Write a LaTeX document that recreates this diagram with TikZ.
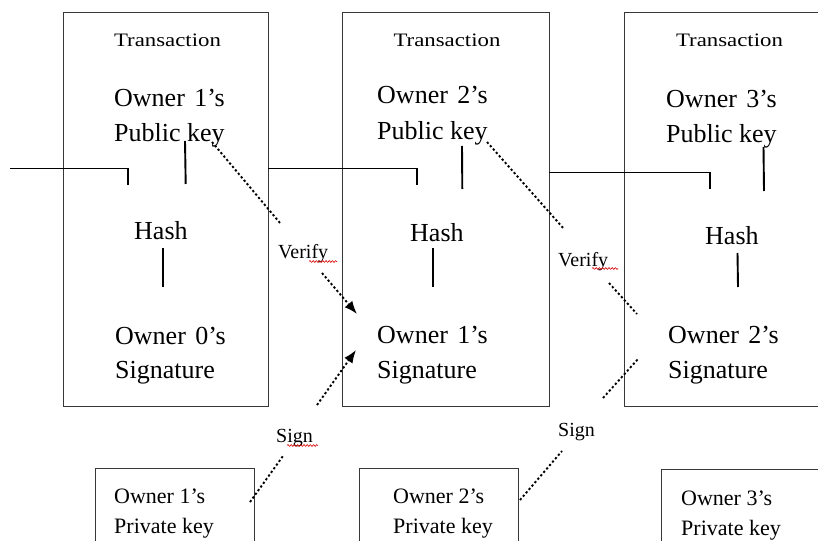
\documentclass[tikz,border=0pt]{standalone}
\usepackage{fontspec}
\setmainfont{Liberation Serif}
\newfontfamily\widefont[FakeStretch=1.2]{Liberation Serif}
\usetikzlibrary{arrows.meta,decorations.pathmorphing}

\begin{document}
\begin{tikzpicture}[x=1pt,y=-1pt,
  box/.style={draw=black!78, line width=0.9pt, inner sep=0pt},
  bigtext/.style={font=\fontsize{26}{30}\selectfont, inner sep=0pt, anchor=base west},
  headtext/.style={font=\widefont\fontsize{19}{23}\selectfont, inner sep=0pt, anchor=base},
  smalltext/.style={font=\fontsize{20}{24}\selectfont, inner sep=0pt, anchor=base west},
  keytext/.style={font=\fontsize{22}{26}\selectfont, inner sep=0pt, anchor=base west},
  chain/.style={line width=0.9pt},
  tick/.style={line width=1.9pt},
  link/.style={line width=1.9pt},
  dotline/.style={line width=1.9pt, dash pattern=on 2.2pt off 2.3pt},
  tip/.style={-{Latex[length=13pt,width=10pt]}},
  squiggle/.style={draw=red!85!black, line width=0.6pt, decorate,
    decoration={snake, amplitude=0.9pt, segment length=3.2pt}}]

\useasboundingbox (0,0) rectangle (818,540);
\clip (0,0) rectangle (818,540);
\fill[white] (0,0) rectangle (818,540);

% transaction boxes
\node[box, minimum width=205pt, minimum height=394pt] (tx1) at (165.5,209) {};
\node[box, minimum width=207pt, minimum height=394pt] (tx2) at (445.5,209) {};
\node[box, minimum width=220pt, minimum height=394pt] (tx3) at (734,209) {};

% private key boxes
\node[box, minimum width=159pt, minimum height=100pt] (pk1) at (174.5,518) {};
\node[box, minimum width=159pt, minimum height=100pt] (pk2) at (438.5,518) {};
\node[box, minimum width=180pt, minimum height=100pt] (pk3) at (751,519) {};

% box headings
\node[headtext] (t1) at (167.5,47) {Transaction};
\node[headtext] (t2) at (447,47) {Transaction};
\node[headtext] (t3) at (729.5,47) {Transaction};

% public keys
\node[bigtext] (pa1) at (114,107) {Owner\hspace{0.36em}1’s};
\node[bigtext] (pb1) at (114,142) {Public key};
\node[bigtext] (pa2) at (377,104) {Owner\hspace{0.36em}2’s};
\node[bigtext] (pb2) at (377,140) {Public key};
\node[bigtext] (pa3) at (666,108) {Owner\hspace{0.36em}3’s};
\node[bigtext] (pb3) at (666,143) {Public key};

% hashes
\node[bigtext] (h1) at (134,239) {Hash};
\node[bigtext] (h2) at (410,241) {Hash};
\node[bigtext] (h3) at (705,244) {Hash};

% signatures
\node[bigtext] (sa1) at (115,344) {Owner\hspace{0.36em}0’s};
\node[bigtext] (sb1) at (115,378) {Signature};
\node[bigtext] (sa2) at (377,343) {Owner\hspace{0.36em}1’s};
\node[bigtext] (sb2) at (377,378) {Signature};
\node[bigtext] (sa3) at (668,343) {Owner\hspace{0.36em}2’s};
\node[bigtext] (sb3) at (668,378) {Signature};

% private key labels
\node[keytext] (ka1) at (114,503) {Owner 1’s};
\node[keytext] (kb1) at (114,533) {Private key};
\node[keytext] (ka2) at (393,503) {Owner 2’s};
\node[keytext] (kb2) at (393,533) {Private key};
\node[keytext] (ka3) at (681,505) {Owner 3’s};
\node[keytext] (kb3) at (681,535) {Private key};

% operation labels
\node[smalltext] (ver1) at (278,258) {Verify};
\node[smalltext] (ver2) at (558,266) {Verify};
\node[smalltext] (sig1) at (276,442) {Sign};
\node[smalltext] (sig2) at (558,436) {Sign};

% spell-check marks
\coordinate (u1a) at (309,261.5); \coordinate (u1b) at (337,261.5);
\coordinate (u2a) at (592,268.5); \coordinate (u2b) at (618,268.5);
\coordinate (u3a) at (287,445.5); \coordinate (u3b) at (318,445.5);
\draw[squiggle] (u1a) -- (u1b);
\draw[squiggle] (u2a) -- (u2b);
\draw[squiggle] (u3a) -- (u3b);

% hash chain
\coordinate (c0a) at (10,168);  \coordinate (c0b) at (128,185);
\coordinate (c1a) at (tx1.east |- 0,168); \coordinate (c1b) at (417,185);
\coordinate (c2a) at (tx2.east |- 0,172); \coordinate (c2b) at (710,189);
\draw[chain] (c0a) -- (c0a -| c0b);
\draw[tick] (c0a -| c0b) -- (c0b);
\draw[chain] (c1a) -- (c1a -| c1b);
\draw[tick] (c1a -| c1b) -- (c1b);
\draw[chain] (c2a) -- (c2a -| c2b);
\draw[tick] (c2a -| c2b) -- (c2b);

% key-to-hash and hash-to-signature links
\coordinate (k1t) at (185,141); \coordinate (k1b) at (185.7,184);
\coordinate (k2t) at (462,146); \coordinate (k2b) at (462.3,189);
\coordinate (k3t) at (763.5,147); \coordinate (k3b) at (764,191);
\coordinate (g1t) at (163,248); \coordinate (g1b) at (163,287);
\coordinate (g2t) at (433,248); \coordinate (g2b) at (433,287);
\coordinate (g3t) at (737.5,253); \coordinate (g3b) at (738,287);
\draw[link] (k1t) -- (k1b);
\draw[link] (k2t) -- (k2b);
\draw[link] (k3t) -- (k3b);
\draw[link] (g1t) -- (g1b);
\draw[link] (g2t) -- (g2b);
\draw[link] (g3t) -- (g3b);

% verify paths
\coordinate (v1a) at (212,142); \coordinate (v1b) at (280,223);
\coordinate (v1c) at (322,273); \coordinate (v1d) at (357,314);
\coordinate (v2a) at (487,142); \coordinate (v2b) at (564,229);
\coordinate (v2c) at (609,283); \coordinate (v2d) at (637,314);
\draw[dotline] (v1a) -- (v1b);
\draw[dotline, tip] (v1c) -- (v1d);
\draw[dotline] (v2a) -- (v2b);
\draw[dotline] (v2c) -- (v2d);

% sign paths
\coordinate (s1a) at (250,502); \coordinate (s1b) at (283,456);
\coordinate (s1c) at (317,405); \coordinate (s1d) at (356,350);
\coordinate (s2a) at (520,500); \coordinate (s2b) at (562,451);
\coordinate (s2c) at (603,398); \coordinate (s2d) at (638,359);
\draw[dotline] (s1a) -- (s1b);
\draw[dotline, tip] (s1c) -- (s1d);
\draw[dotline] (s2a) -- (s2b);
\draw[dotline] (s2c) -- (s2d);
\end{tikzpicture}
\end{document}
